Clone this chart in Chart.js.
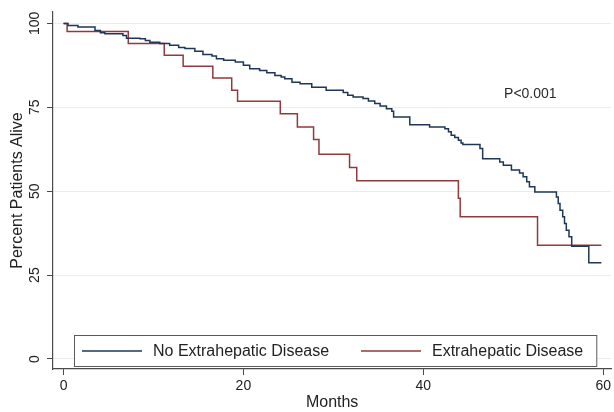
<!DOCTYPE html>
<html><head><meta charset="utf-8">
<script src="https://cdn.jsdelivr.net/npm/chart.js@4"></script>
<style>html,body{margin:0;padding:0;background:#fff;}canvas{display:block}</style>
</head><body>
<canvas id="c" width="614" height="412"></canvas>
<script>
const seriesNames = ['No Extrahepatic Disease', 'Extrahepatic Disease'];
const seriesColors = ['#1f3658', '#8f3a3c'];

const monthsNoExt = [0, 0.5, 1.6, 3.5, 4.1, 4.6, 6.6, 7.0, 8.5, 9.1, 9.6, 10.7, 11.8, 12.8, 13.5, 14.6, 15.5, 16.5, 17.0, 17.8, 19.1, 20.0, 20.7, 21.8, 22.6, 23.5, 24.2, 24.6, 25.4, 26.3, 27.6, 29.2, 31.1, 31.6, 32.2, 33.3, 33.9, 34.6, 35.2, 35.9, 36.5, 36.7, 38.5, 40.7, 42.4, 42.8, 43.1, 43.5, 43.9, 44.2, 44.4, 46.3, 46.6, 48.5, 48.9, 49.8, 50.7, 51.1, 51.5, 51.8, 52.4, 54.8, 55.0, 55.2, 55.5, 55.7, 55.9, 56.2, 56.5, 58.4, 59.8];
const survivalNoExt = [100, 99.4, 98.9, 97.9, 97.2, 96.9, 96.4, 95.6, 95.4, 94.9, 94.4, 94.0, 93.5, 92.8, 92.5, 91.7, 90.7, 90.3, 89.5, 89.0, 88.5, 87.5, 86.5, 86.0, 85.3, 84.5, 84.0, 83.5, 82.5, 82.0, 81.0, 80.1, 79.4, 78.6, 78.1, 77.6, 76.9, 76.1, 75.4, 74.6, 73.8, 72.1, 69.8, 69.1, 68.6, 67.7, 66.7, 66.0, 65.2, 64.4, 63.9, 62.7, 59.7, 58.7, 57.7, 56.3, 55.4, 54.3, 52.8, 51.3, 49.8, 48.3, 46.3, 44.3, 42.4, 40.4, 38.4, 36.4, 33.6, 28.7, 28.7];

const monthsExt = [0, 0.4, 7.2, 11.2, 13.3, 16.6, 18.7, 19.35, 24.1, 26.0, 27.8, 28.4, 31.8, 32.6, 43.9, 44.1, 52.7, 59.8];
const survivalExt = [100, 97.6, 94.0, 90.5, 87.2, 83.7, 80.1, 76.8, 73.1, 69.1, 65.4, 61.0, 57.1, 53.1, 47.9, 42.4, 33.9, 33.9];

const xTicks = [0, 20, 40, 60];
const yTicks = [0, 25, 50, 75, 100];
const xTitle = 'Months';
const yTitle = 'Percent Patients Alive';
const pValueText = 'P<0.001';

const FONT = '"Liberation Sans", Arial, sans-serif';
const AXIS = '#4a4a4a';

function pts(xs, ys) { return xs.map((x, i) => ({x: x, y: ys[i]})); }

const overlay = {
  id: 'overlay',
  afterDatasetsDraw(chart, args, opts) {
    const ctx = chart.ctx;
    const a = chart.chartArea;
    const xs = chart.scales.x, ys = chart.scales.y;
    ctx.save();
    // p-value annotation
    ctx.font = '14px ' + FONT;
    ctx.fillStyle = '#2a2a2a';
    ctx.textAlign = 'center';
    ctx.textBaseline = 'middle';
    ctx.fillText(opts.pText, xs.getPixelForValue(opts.pAt[0]), ys.getPixelForValue(opts.pAt[1]));
    // legend box
    const L = a.left + 21, R = a.right - 14, T = a.bottom - 34, B = a.bottom - 2;
    ctx.fillStyle = '#ffffff';
    ctx.fillRect(L, T, R - L, B - T);
    ctx.strokeStyle = '#5a5a5a';
    ctx.lineWidth = 1;
    ctx.strokeRect(L + 0.5, T + 0.5, R - L - 1, B - T - 1);
    const cy = (T + B) / 2;
    const starts = [L + 8, L + 287];
    ctx.font = '16px ' + FONT;
    ctx.textAlign = 'left';
    chart.data.datasets.forEach((ds, i) => {
      const sx = starts[i];
      ctx.strokeStyle = ds.borderColor;
      ctx.lineWidth = 1.5;
      ctx.beginPath();
      ctx.moveTo(sx, cy);
      ctx.lineTo(sx + 60, cy);
      ctx.stroke();
      ctx.fillStyle = '#222';
      ctx.fillText(ds.label, sx + 71, cy + 1);
    });
    ctx.restore();
  }
};

new Chart(document.getElementById('c'), {
  type: 'line',
  data: {
    datasets: [
      { label: seriesNames[0], data: pts(monthsNoExt, survivalNoExt), borderColor: seriesColors[0], borderWidth: 1.5, stepped: true, pointRadius: 0, fill: false },
      { label: seriesNames[1], data: pts(monthsExt, survivalExt), borderColor: seriesColors[1], borderWidth: 1.5, stepped: true, pointRadius: 0, fill: false }
    ]
  },
  options: {
    responsive: false,
    animation: false,
    devicePixelRatio: 1,
    layout: { padding: { top: 12, right: 2, left: 0, bottom: 0 } },
    plugins: {
      legend: { display: false },
      tooltip: { enabled: false },
      overlay: { pText: pValueText, pAt: [51.9, 78.9] }
    },
    scales: {
      x: {
        type: 'linear',
        min: -1.17, max: 60.9,
        afterBuildTicks: s => { s.ticks = xTicks.map(v => ({value: v})); },
        afterFit: s => { s.height = 43; },
        grid: { drawOnChartArea: false, drawTicks: true, tickLength: 6, tickColor: AXIS, tickWidth: 1 },
        border: { display: true, color: AXIS, width: 1.2 },
        ticks: { font: { family: FONT, size: 14 }, color: '#222', padding: 3, maxRotation: 0 },
        title: { display: true, text: xTitle, font: { family: FONT, size: 16 }, color: '#222', padding: { top: 0, bottom: 0 } }
      },
      y: {
        type: 'linear',
        min: -2.98, max: 103.4,
        afterBuildTicks: s => { s.ticks = yTicks.map(v => ({value: v})); },
        afterFit: s => { s.width = 53; },
        grid: { color: '#ececec', lineWidth: 1, drawTicks: true, tickLength: 6, tickColor: AXIS, tickWidth: 1 },
        border: { display: true, color: AXIS, width: 1.2 },
        ticks: { font: { family: FONT, size: 14 }, color: '#222', padding: 0, minRotation: 90, maxRotation: 90, crossAlign: 'center' },
        title: { display: true, text: yTitle, font: { family: FONT, size: 16 }, color: '#222', padding: { top: 8, bottom: 0 } }
      }
    }
  },
  plugins: [overlay]
});
</script>
</body></html>
